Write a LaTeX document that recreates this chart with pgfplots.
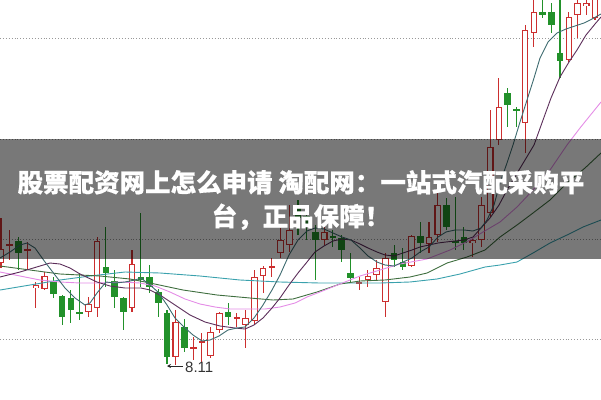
\documentclass[border=0pt]{standalone}
\usepackage{pgfplots}
\pgfplotsset{compat=1.18}
\usepackage{pgfplotstable}
\usepackage{fontspec}
\setmainfont{Liberation Sans}
\newfontfamily\cjk{Noto Sans CJK SC}[BoldFeatures={FakeBold=0.5}]
\usetikzlibrary{arrows.meta}

\definecolor{candlered}{HTML}{CC2F2F}
\definecolor{candlegreen}{HTML}{22912A}
\definecolor{maA}{HTML}{3E6B70}
\definecolor{maB}{HTML}{5C2E5A}
\definecolor{maC}{HTML}{E48CE6}
\definecolor{maD}{HTML}{3F6E3F}
\definecolor{maE}{HTML}{3AA1AD}

% candles in screen units (y grows downwards): high, body top, body bottom, low
\pgfplotstableread{
x hi top bot lo
1.0 218 249 263 268
9.7 230 244 246 260
27.2 242 249 251 270
35.9 282 285 288 308
44.7 272 276 289 290
88.4 297 304 312 317
97.1 237 241 308 317
132.0 250 264 308 312
175.7 310 322 357 365
193.2 337 347 349 360
201.9 333 341 343 363
210.6 327 332 356 358
219.4 312 313 330 333
236.8 313 317 319 327
245.6 310 318 325 348
254.3 270 277 321 325
263.1 266 268 276 293
271.8 258 266 268 277
280.5 228 240 253 258
289.3 205 230 245 252
324.2 227 232 240 245
359.1 277 282 284 290
367.9 270 276 280 287
376.6 260 268 275 280
385.3 253 258 302 317
411.6 235 236 266 267
429.0 222 237 244 253
437.7 192 205 235 242
472.7 238 240 243 257
481.4 197 205 240 247
490.2 110 147 213 217
498.9 78 107 140 145
525.1 25 30 123 153
533.8 -5 12 33 47
568.8 12 17 60 62
577.5 -5 3 15 38
586.2 -5 3 6 15
595.0 -5 -5 18 20
}\upc

\pgfplotstableread{
x hi top bot lo
18.5 237 241 253 270
53.4 277 282 294 298
62.1 295 296 317 325
70.9 290 298 310 323
79.6 273 312 314 320
105.8 227 267 273 287
114.6 270 281 297 308
123.3 297 298 312 330
140.8 213 277 280 287
149.5 265 277 287 293
158.2 289 292 303 317
167.0 310 313 357 364
184.4 319 327 348 352
228.1 303 312 317 325
298.0 200 208 218 235
306.7 212 216 226 240
315.5 225 232 240 280
332.9 230 236 238 247
341.7 235 238 250 262
350.4 253 273 278 282
394.1 245 253 260 267
402.8 248 262 267 270
420.3 222 236 243 253
446.5 198 205 227 230
455.2 197 241 243 250
463.9 227 237 243 250
507.6 88 93 105 127
516.4 107 109 111 127
542.6 -5 12 15 18
551.3 3 12 25 33
560.0 -5 53 61 78
}\downc

\begin{document}
\begin{tikzpicture}
\begin{axis}[
  x=1pt, y=1pt,
  xmin=0, xmax=601, ymin=0, ymax=399,
  y dir=reverse,
  axis line style={draw=none},
  ticks=none,
  clip=true,
]

% dotted price grid
\pgfplotsinvokeforeach{38,139,239,339}{
  \addplot[gray!80, dotted, line width=0.9pt, forget plot] coordinates {(0,#1) (601,#1)};
}

% wicks
\addplot[draw=none, mark=none, forget plot,
  error bars/.cd, y dir=both, y explicit, error mark=none,
  error bar style={draw=candlered, line width=1.1pt}]
  table[x=x, y expr={(\thisrow{hi}+\thisrow{lo})/2},
        y error expr={(\thisrow{lo}-\thisrow{hi})/2}] {\upc};
\addplot[draw=none, mark=none, forget plot,
  error bars/.cd, y dir=both, y explicit, error mark=none,
  error bar style={draw=candlegreen, line width=1.1pt}]
  table[x=x, y expr={(\thisrow{hi}+\thisrow{lo})/2},
        y error expr={(\thisrow{lo}-\thisrow{hi})/2}] {\downc};

% rising bodies: red outline, white inside
\addplot[draw=none, mark=none, forget plot,
  error bars/.cd, y dir=both, y explicit, error mark=none,
  error bar style={draw=candlered, line width=6.6pt}]
  table[x=x, y expr={(\thisrow{top}+\thisrow{bot})/2},
        y error expr={max((\thisrow{bot}-\thisrow{top})/2,0.6)}] {\upc};
\addplot[draw=none, mark=none, forget plot,
  error bars/.cd, y dir=both, y explicit, error mark=none,
  error bar style={draw=white, line width=4.4pt}]
  table[x=x, y expr={(\thisrow{top}+\thisrow{bot})/2},
        y error expr={max((\thisrow{bot}-\thisrow{top})/2-1.1,0)}] {\upc};

% falling bodies: solid green
\addplot[draw=none, mark=none, forget plot,
  error bars/.cd, y dir=both, y explicit, error mark=none,
  error bar style={draw=candlegreen, line width=6.6pt}]
  table[x=x, y expr={(\thisrow{top}+\thisrow{bot})/2},
        y error expr={max((\thisrow{bot}-\thisrow{top})/2,0.6)}] {\downc};

% moving averages
\addplot[maE, line width=0.9pt, forget plot] coordinates {
(0,290)(30,285)(60,280)(90,276)(125,272)(160,273)(200,276)(240,280)(280,282)
(320,283)(350,283)(380,283)(410,282)(437,279)(460,274)(485,267)(500,265)
(517,262)(533,253)(550,243)(567,235)(583,227)(601,220)};
\addplot[maD, line width=0.9pt, forget plot] coordinates {
(0,266)(30,270)(60,274)(100,276)(130,279)(150,283)(183,290)(217,295)(250,298)
(273,300)(293,299)(317,292)(340,284)(360,281)(385,280)(410,277)(427,273)
(447,263)(467,257)(485,250)(500,237)(517,225)(533,213)(550,200)(567,183)
(585,168)(601,153)};
\addplot[maC, line width=0.9pt, forget plot] coordinates {
(0,272)(20,276)(40,280)(60,282)(80,283)(100,283)(120,282)(140,283)(155,286)
(170,292)(185,299)(200,304)(215,307)(230,309)(250,309)(265,309)(280,307)
(295,303)(307,297)(320,292)(340,284)(360,276)(380,270)(400,264)(427,259)
(450,250)(470,240)(483,232)(500,222)(517,207)(533,190)(550,170)(567,145)
(580,128)(601,102)};
\addplot[maB, line width=0.9pt, forget plot] coordinates {
(0,277)(20,272)(40,266)(50,263)(60,264)(70,268)(80,274)(97,282)(110,286)
(125,288)(141,288)(150,290)(160,295)(175,305)(190,315)(205,322)(220,326)
(235,328)(245,329)(254,325)(263,318)(272,308)(280,298)(289,285)(298,273)
(307,262)(315,252)(324,246)(333,241)(342,239)(351,240)(360,244)(368,248)
(377,252)(385,255)(394,256)(403,253)(412,250)(420,247)(429,245)(438,243)
(446,242)(455,241)(464,240)(473,237)(481,228)(490,218)(499,205)(507,190)
(516,175)(525,160)(534,145)(543,120)(551,98)(560,77)(569,62)(577,50)
(586,35)(595,24)(601,17)};
\addplot[maA, line width=0.9pt, forget plot] coordinates {
(0,258)(10,252)(20,245)(27,243)(35,248)(45,262)(55,275)(65,288)(75,298)
(85,305)(90,303)(97,293)(106,282)(115,283)(125,282)(135,280)(141,278)
(150,285)(158,292)(167,305)(175,318)(184,327)(193,335)(202,341)(210,340)
(219,336)(228,330)(237,328)(245,327)(254,318)(263,305)(272,290)(280,275)
(289,255)(298,240)(307,231)(315,228)(324,229)(333,233)(342,237)(351,240)
(360,248)(368,256)(377,262)(385,265)(394,266)(403,262)(412,258)(420,252)
(429,247)(438,237)(446,232)(455,230)(464,230)(473,231)(481,228)(487,220)
(494,205)(500,183)(507,163)(513,145)(520,122)(527,100)(534,78)(540,58)
(548,42)(557,33)(566,29)(575,26)(584,23)(592,19)(601,14)};

% low marker
\addplot[black!85, line width=0.9pt, forget plot, -{Stealth[length=4pt,width=4pt]}]
  coordinates {(183,366) (167,366)};
\node[anchor=west, text=black!80, font=\fontsize{15}{17}\selectfont, inner sep=0pt]
  at (axis cs:185,367) {8.11};

% caption band
\addplot[draw=none, fill=black, fill opacity=0.53, forget plot]
  coordinates {(0,139) (601,139) (601,259) (0,259)};
\node[text=white, align=center, inner sep=0pt,
      font=\cjk\bfseries\fontsize{25.5}{34}\selectfont]
  at (axis cs:301,200) {股票配资网上怎么申请 淘配网：一站式汽配采购平\\台，正品保障！};

\end{axis}
\end{tikzpicture}
\end{document}
